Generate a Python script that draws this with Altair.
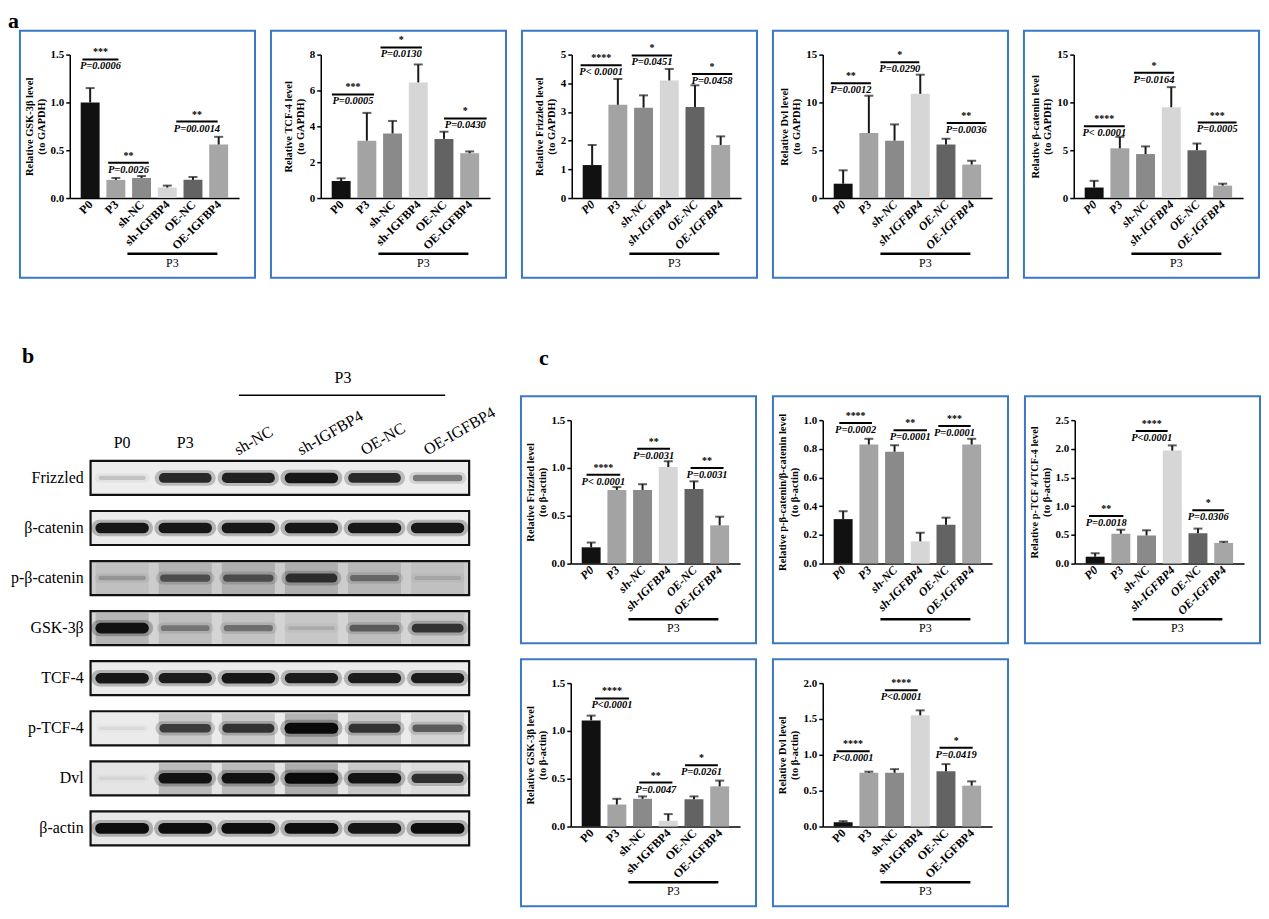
import altair as alt
import pandas as pd

SERIF = "Liberation Serif"
BOX_BLUE = "#3b78c4"

GROUPS = ["P0", "P3", "sh-NC", "sh-IGFBP4", "OE-NC", "OE-IGFBP4"]
BAR_COLORS = ["#111111", "#a3a3a3", "#8a8a8a", "#d6d6d6", "#636363", "#a6a6a6"]

# ---- panel a (normalised to GAPDH): means, upper error, brackets (x1, x2, y, stars, p)
A_GSK = [1.00, 0.19, 0.21, 0.11, 0.19, 0.56]
A_GSK_ERR = [0.15, 0.02, 0.02, 0.02, 0.03, 0.08]
A_GSK_SIG = [(-0.3, 1.1, 1.45, "***", "P=0.0006"),
             (0.7, 2.28, 0.37, "**", "P=0.0026"),
             (3.35, 4.96, 0.80, "**", "P=00.0014")]

A_TCF = [0.95, 3.2, 3.6, 6.45, 3.3, 2.5]
A_TCF_ERR = [0.15, 1.55, 0.7, 1.0, 0.4, 0.1]
A_TCF_SIG = [(-0.36, 1.28, 5.78, "***", "P=0.0005"),
             (1.53, 3.14, 8.4, "*", "P=0.0130"),
             (4.0, 5.66, 4.44, "*", "P=0.0430")]

A_FZD = [1.15, 3.25, 3.15, 4.1, 3.17, 1.85]
A_FZD_ERR = [0.7, 0.9, 0.43, 0.4, 0.76, 0.3]
A_FZD_SIG = [(-0.45, 1.15, 4.63, "****", "P< 0.0001"),
             (1.54, 3.11, 4.97, "*", "P=0.0451"),
             (3.88, 5.45, 4.32, "*", "P=0.0458")]

A_DVL = [1.5, 6.8, 6.0, 10.9, 5.6, 3.5]
A_DVL_ERR = [1.4, 3.9, 1.7, 2.0, 0.6, 0.4]
A_DVL_SIG = [(-0.48, 1.08, 12.0, "**", "P=0.0012"),
             (1.45, 2.96, 14.2, "*", "P=0.0290"),
             (4.03, 5.54, 7.85, "**", "P=0.0036")]

A_BCAT = [1.1, 5.2, 4.6, 9.5, 5.0, 1.3]
A_BCAT_ERR = [0.7, 1.2, 0.8, 2.1, 0.7, 0.2]
A_BCAT_SIG = [(-0.4, 1.19, 7.5, "****", "P< 0.0001"),
              (1.55, 3.1, 13.1, "*", "P=0.0164"),
              (4.03, 5.54, 7.9, "***", "P=0.0005")]

# ---- panel c (normalised to beta-actin)
C_FZD = [0.17, 0.77, 0.77, 1.01, 0.78, 0.40]
C_FZD_ERR = [0.05, 0.03, 0.06, 0.06, 0.08, 0.09]
C_FZD_SIG = [(-0.18, 1.13, 0.93, "****", "P< 0.0001"),
             (1.79, 3.07, 1.2, "**", "P=0.0031"),
             (3.87, 5.15, 1.0, "**", "P=0.0031")]

C_PBCAT = [0.31, 0.83, 0.78, 0.155, 0.27, 0.83]
C_PBCAT_ERR = [0.055, 0.04, 0.045, 0.06, 0.05, 0.04]
C_PBCAT_SIG = [(-0.15, 1.12, 0.98, "****", "P=0.0002"),
               (1.96, 3.26, 0.93, "**", "P=0.0001"),
               (3.7, 4.96, 0.96, "***", "P=0.0001")]

C_PTCF = [0.12, 0.52, 0.49, 1.97, 0.53, 0.36]
C_PTCF_ERR = [0.06, 0.07, 0.09, 0.09, 0.08, 0.02]
C_PTCF_SIG = [(-0.24, 1.1, 0.83, "**", "P=0.0018"),
              (1.58, 2.82, 2.31, "****", "P<0.0001"),
              (3.78, 5.02, 0.93, "*", "P=0.0306")]

C_GSK = [1.11, 0.23, 0.29, 0.06, 0.285, 0.42]
C_GSK_ERR = [0.05, 0.06, 0.025, 0.07, 0.03, 0.06]
C_GSK_SIG = [(0.15, 1.47, 1.34, "****", "P<0.0001"),
             (1.87, 3.16, 0.46, "**", "P=0.0047"),
             (3.65, 4.93, 0.64, "*", "P=0.0261")]

C_DVL = [0.06, 0.75, 0.75, 1.55, 0.77, 0.57]
C_DVL_ERR = [0.015, 0.015, 0.05, 0.07, 0.1, 0.06]
C_DVL_SIG = [(-0.26, 1.03, 1.05, "****", "P<0.0001"),
             (1.62, 2.9, 1.9, "****", "P<0.0001"),
             (3.75, 5.04, 1.1, "*", "P=0.0419")]

# ---- panel b (western blot): band darkness per lane, 0..1
BLOT_ROWS = ["Frizzled", "β-catenin", "p-β-catenin", "GSK-3β", "TCF-4", "p-TCF-4", "Dvl", "β-actin"]
BAND_FRIZZLED = [0.15, 0.85, 0.9, 0.95, 0.85, 0.45]
BAND_BCAT = [0.95, 0.95, 0.95, 0.95, 0.95, 0.95]
BAND_PBCAT = [0.2, 0.55, 0.55, 0.75, 0.4, 0.12]
BAND_GSK = [0.95, 0.35, 0.4, 0.12, 0.5, 0.75]
BAND_TCF = [0.95, 0.92, 0.95, 0.92, 0.92, 0.92]
BAND_PTCF = [0.06, 0.7, 0.75, 1.0, 0.75, 0.55]
BAND_DVL = [0.06, 0.95, 0.95, 1.0, 0.95, 0.8]
BAND_ACTIN = [1.0, 1.0, 1.0, 1.0, 0.95, 1.0]
BANDS = [BAND_FRIZZLED, BAND_BCAT, BAND_PBCAT, BAND_GSK, BAND_TCF, BAND_PTCF, BAND_DVL, BAND_ACTIN]
SMEAR_PBCAT = [0.15, 0.3, 0.35, 0.35, 0.25, 0.15]
SMEAR_GSK = [0.35, 0.25, 0.2, 0.15, 0.25, 0.15]
SMEAR_PTCF = [0.0, 0.35, 0.35, 0.6, 0.35, 0.25]
SMEAR_DVL = [0.0, 0.45, 0.45, 0.6, 0.3, 0.1]
SMEARS = [[0] * 6, [0] * 6, SMEAR_PBCAT, SMEAR_GSK, [0] * 6, SMEAR_PTCF, SMEAR_DVL, [0] * 6]
BLOT_BG = [0.07, 0.08, 0.2, 0.17, 0.08, 0.08, 0.1, 0.09]

W, H = 170, 144
L, R, T, B = 50, 16, 24, 80

GROUP_EXPR = "[" + ",".join("'%s'" % g for g in GROUPS) + "][datum.value]"


def tag_layer(letter, x, y):
    return alt.Chart(pd.DataFrame({"t": [letter]})).mark_text(
        fontSize=22, font=SERIF, fontWeight="bold", align="left", baseline="top", color="black"
    ).encode(x=alt.value(x), y=alt.value(y), text="t:N")


def bar_panel(values, errs, sig, ymax, ticks, fmt, ytitle, italic, tag=None):
    df = pd.DataFrame({"pos": list(range(6)), "group": GROUPS, "value": values, "err": errs})
    df["top"] = df["value"] + df["err"]
    sig_df = pd.DataFrame(sig, columns=["x1", "x2", "y", "stars", "p"])
    sig_df["xm"] = (sig_df["x1"] + sig_df["x2"]) / 2

    xs = alt.Scale(domain=[-0.6, 5.6], nice=False, zero=False)
    ys = alt.Scale(domain=[0, ymax], nice=False)
    base = alt.Chart(df)

    bars = base.mark_bar(size=19).encode(
        x=alt.X("pos:Q", scale=xs, axis=alt.Axis(
            values=list(range(6)), tickCount=6, labelExpr=GROUP_EXPR, labelAngle=315,
            labelAlign="right", labelBaseline="middle", labelPadding=4, ticks=False,
            labelFontSize=12, labelFontStyle="italic" if italic else "normal", title=None)),
        y=alt.Y("value:Q", scale=ys, axis=alt.Axis(
            values=ticks, tickCount=len(ticks), format=fmt, title=ytitle)),
        color=alt.Color("group:N", scale=alt.Scale(domain=GROUPS, range=BAR_COLORS), legend=None),
    )
    err_rule = base.mark_rule(color="#1a1a1a", strokeWidth=2).encode(
        x="pos:Q", y="value:Q", y2="top:Q")
    cap = base.mark_tick(color="#1a1a1a", orient="horizontal", size=9, thickness=2).encode(
        x="pos:Q", y="top:Q")

    sb = alt.Chart(sig_df)
    sig_line = sb.mark_rule(color="black", strokeWidth=2).encode(x="x1:Q", x2="x2:Q", y="y:Q")
    stars = sb.mark_text(baseline="bottom", dy=-2, fontSize=10, fontWeight="bold",
                         font=SERIF, color="black").encode(x="xm:Q", y="y:Q", text="stars:N")
    ptext = sb.mark_text(baseline="top", dy=2, fontSize=10.5, fontWeight="bold", fontStyle="italic",
                         font=SERIF, color="black").encode(x="xm:Q", y="y:Q", text="p:N")

    grp = alt.Chart(pd.DataFrame({"x1": [1.45], "x2": [4.95], "xm": [3.2], "t": ["P3"]}))
    grp_line = grp.mark_rule(color="black", strokeWidth=2.5).encode(
        x="x1:Q", x2="x2:Q", y=alt.value(H + 56))
    grp_text = grp.mark_text(baseline="top", fontSize=12, font=SERIF, color="black").encode(
        x="xm:Q", y=alt.value(H + 60), text="t:N")

    box = alt.Chart(pd.DataFrame({"k": [0]})).mark_rect(
        filled=False, stroke=BOX_BLUE, strokeWidth=2).encode(
        x=alt.value(-L), x2=alt.value(W + R), y=alt.value(-T), y2=alt.value(H + B))

    layers = [bars, err_rule, cap, sig_line, stars, ptext, grp_line, grp_text, box]
    if tag is not None:
        layers.append(tag_layer(*tag))
    return alt.layer(*layers).properties(width=W, height=H)


a1 = bar_panel(A_GSK, A_GSK_ERR, A_GSK_SIG, 1.5, [0, 0.5, 1.0, 1.5], ".1f",
               ["Relative GSK-3β level", "(to GAPDH)"], False, tag=("a", -62, -44))
a2 = bar_panel(A_TCF, A_TCF_ERR, A_TCF_SIG, 8, [0, 2, 4, 6, 8], "d",
               ["Relative TCF-4  level", "(to GAPDH)"], False)
a3 = bar_panel(A_FZD, A_FZD_ERR, A_FZD_SIG, 5, [0, 1, 2, 3, 4, 5], "d",
               ["Relative Frizzled  level", "(to GAPDH)"], True)
a4 = bar_panel(A_DVL, A_DVL_ERR, A_DVL_SIG, 15, [0, 5, 10, 15], "d",
               ["Relative Dvl  level", "(to GAPDH)"], True)
a5 = bar_panel(A_BCAT, A_BCAT_ERR, A_BCAT_SIG, 15, [0, 5, 10, 15], "d",
               ["Relative β-catenin  level", "(to GAPDH)"], True)

c1 = bar_panel(C_FZD, C_FZD_ERR, C_FZD_SIG, 1.5, [0, 0.5, 1.0, 1.5], ".1f",
               ["Relative  Frizzled  level", "(to β-actin)"], True, tag=("c", -L + 18, -72))
c2 = bar_panel(C_PBCAT, C_PBCAT_ERR, C_PBCAT_SIG, 1.0, [0, 0.2, 0.4, 0.6, 0.8, 1.0], ".1f",
               ["Relative  p-β-catenin/β-catenin  level", "(to β-actin)"], True)
c3 = bar_panel(C_PTCF, C_PTCF_ERR, C_PTCF_SIG, 2.5, [0, 0.5, 1.0, 1.5, 2.0, 2.5], ".1f",
               ["Relative  p-TCF 4/TCF-4  level", "(to β-actin)"], True)
c4 = bar_panel(C_GSK, C_GSK_ERR, C_GSK_SIG, 1.5, [0, 0.5, 1.0, 1.5], ".1f",
               ["Relative GSK-3β level", "(to β-actin)"], False)
c5 = bar_panel(C_DVL, C_DVL_ERR, C_DVL_SIG, 2.0, [0, 0.5, 1.0, 1.5, 2.0], ".1f",
               ["Relative  Dvl  level", "(to β-actin)"], False)

# ---- western blot panel
frame_df = pd.DataFrame({"row": list(range(len(BLOT_ROWS))), "name": BLOT_ROWS, "bg": BLOT_BG})
band_rows = []
for r, (inten, smear) in enumerate(zip(BANDS, SMEARS)):
    for lane in range(6):
        band_rows.append({"row": r, "lane": lane, "inten": inten[lane], "smear": smear[lane]})
band_df = pd.DataFrame(band_rows)
lane_df = pd.DataFrame({"lane": list(range(6)), "name": GROUPS})

# plot area starts a little above / left of the first frame so that it lines up with panels a and c
BW, BH = 401, 435
bx = alt.Scale(domain=[-0.83, 5.5], nice=False, zero=False)
by = alt.Scale(domain=[-1.154, 7.5], reverse=True, nice=False, zero=False)
FRAME_LEFT = 21

frame_fill = alt.Chart(frame_df).transform_calculate(
    y1="datum.row - 0.34", y2="datum.row + 0.34", x1="-0.5", x2="5.5"
).mark_rect(color="black").encode(
    x=alt.X("x1:Q", scale=bx, axis=None), x2="x2:Q",
    y=alt.Y("y1:Q", scale=by, axis=None), y2="y2:Q",
    opacity=alt.Opacity("bg:Q", scale=None),
)
row_labels = alt.Chart(frame_df).mark_text(
    fontSize=16, font=SERIF, align="right", baseline="middle", dx=-7, color="black"
).encode(
    x=alt.value(FRAME_LEFT),
    y=alt.Y("row:Q", scale=by, axis=None),
    text="name:N",
)
smear_layer = alt.Chart(band_df).transform_calculate(
    x1="datum.lane - 0.42", x2="datum.lane + 0.42",
    y1="datum.row - 0.30", y2="datum.row + 0.33", op="datum.smear * 0.4"
).mark_rect(color="black").encode(
    x=alt.X("x1:Q", scale=bx, axis=None), x2="x2:Q",
    y=alt.Y("y1:Q", scale=by, axis=None), y2="y2:Q",
    opacity=alt.Opacity("op:Q", scale=None),
)
halo = alt.Chart(band_df).transform_calculate(
    x1="datum.lane - 0.36", x2="datum.lane + 0.36",
    w="8 + 9 * datum.inten", op="datum.inten * 0.25"
).mark_rule(color="black", strokeCap="round").encode(
    x=alt.X("x1:Q", scale=bx, axis=None), x2="x2:Q",
    y=alt.Y("row:Q", scale=by, axis=None),
    size=alt.Size("w:Q", scale=None),
    opacity=alt.Opacity("op:Q", scale=None),
)
core = alt.Chart(band_df).transform_calculate(
    x1="datum.lane - 0.34", x2="datum.lane + 0.34",
    w="3 + 8 * datum.inten", op="datum.inten * 0.92"
).mark_rule(color="black", strokeCap="round").encode(
    x=alt.X("x1:Q", scale=bx, axis=None), x2="x2:Q",
    y=alt.Y("row:Q", scale=by, axis=None),
    size=alt.Size("w:Q", scale=None),
    opacity=alt.Opacity("op:Q", scale=None),
)
frame_edge = alt.Chart(frame_df).transform_calculate(
    y1="datum.row - 0.34", y2="datum.row + 0.34", x1="-0.5", x2="5.5"
).mark_rect(filled=False, stroke="#111111", strokeWidth=2.2).encode(
    x=alt.X("x1:Q", scale=bx, axis=None), x2="x2:Q",
    y=alt.Y("y1:Q", scale=by, axis=None), y2="y2:Q",
)
lane_flat = alt.Chart(lane_df).transform_filter("datum.lane < 2").mark_text(
    fontSize=16, font=SERIF, baseline="middle", color="black").encode(
    x=alt.X("lane:Q", scale=bx, axis=None), y=alt.value(23), text="name:N")
lane_slant = alt.Chart(lane_df).transform_filter("datum.lane >= 2").mark_text(
    fontSize=16, font=SERIF, align="left", baseline="bottom", angle=330, dx=-10,
    color="black").encode(
    x=alt.X("lane:Q", scale=bx, axis=None), y=alt.value(33), text="name:N")
hdr = alt.Chart(pd.DataFrame({"x1": [1.85], "x2": [5.12], "xm": [3.5], "t": ["P3"]}))
hdr_line = hdr.mark_rule(color="black", strokeWidth=1.5).encode(
    x=alt.X("x1:Q", scale=bx, axis=None), x2="x2:Q", y=alt.value(-25))
hdr_text = hdr.mark_text(fontSize=16, font=SERIF, baseline="middle", color="black").encode(
    x=alt.X("xm:Q", scale=bx, axis=None), y=alt.value(-42), text="t:N")

blot = alt.layer(frame_fill, smear_layer, halo, core, frame_edge, row_labels,
                 lane_flat, lane_slant, hdr_line, hdr_text,
                 tag_layer("b", -48, -74)).properties(width=BW, height=BH)

row_a = alt.hconcat(a1, a2, a3, a4, a5, spacing=14)
c_grid = alt.vconcat(
    alt.hconcat(c1, c2, c3, spacing=15),
    alt.hconcat(c4, c5, spacing=15),
    spacing=14,
)
row_bc = alt.hconcat(blot, c_grid, spacing=22)

chart = alt.vconcat(row_a, row_bc, spacing=67).properties(
    padding=0, background="white"
).configure_view(
    strokeWidth=0
).configure_axis(
    labelFont=SERIF, titleFont=SERIF, labelColor="black", titleColor="black",
    domainColor="black", tickColor="black", domainWidth=1.5, tickWidth=1.5, tickSize=4,
    labelFontWeight="bold", titleFontWeight="bold", labelFontSize=11, titleFontSize=10.5,
    titlePadding=4, titleLineHeight=12, grid=False, labelOverlap=False,
)

chart.save("out.html", embed_options={"renderer": "svg", "actions": False})
